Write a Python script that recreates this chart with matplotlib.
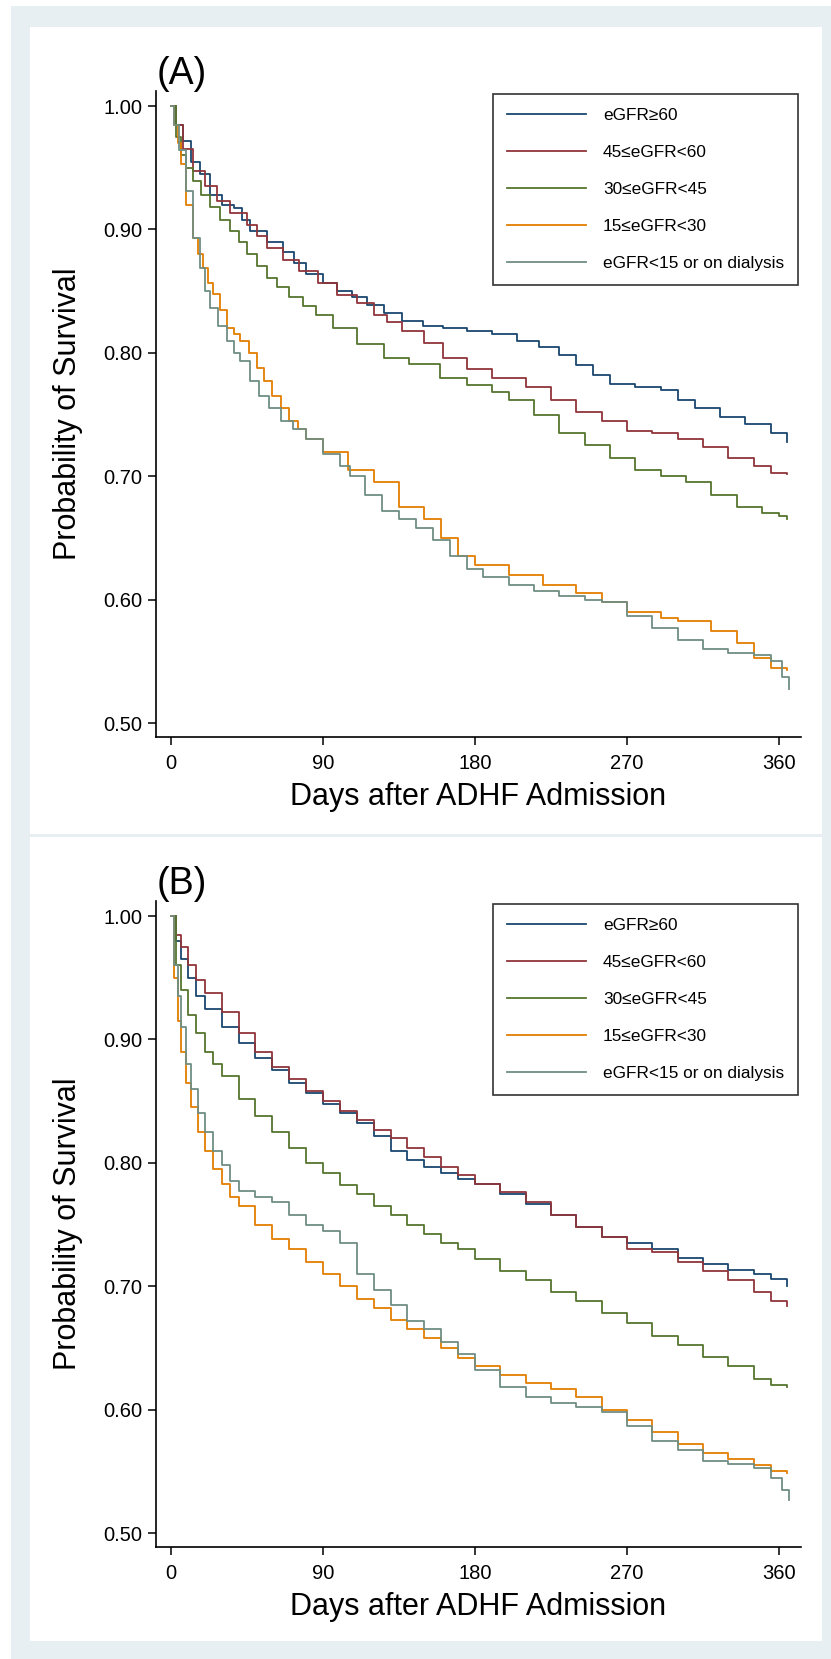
import matplotlib
matplotlib.use("Agg")
import matplotlib.pyplot as plt
from matplotlib.patches import Rectangle

plt.rcParams['font.family'] = ['Liberation Sans', 'DejaVu Sans']

# Group labels and Stata s2color-like colours
groups = ['eGFR\u226560', '45\u2264eGFR<60', '30\u2264eGFR<45', '15\u2264eGFR<30',
          'eGFR<15 or on dialysis']
colors = ['#1a476f', '#90353b', '#55752f', '#e37e00', '#6e8e84']

# Panel (A): Kaplan-Meier survival (day, survival)
a_days_1 = [0, 3, 7, 12, 17, 23, 30, 37, 42, 47, 57, 66, 73, 80, 90, 98, 107, 116, 126, 137,
            149, 161, 175, 190, 205, 218, 230, 240, 250, 260, 275, 290, 300, 310, 325, 340,
            355, 365]
a_surv_1 = [1.00, 0.985, 0.972, 0.955, 0.945, 0.928, 0.92, 0.917, 0.908, 0.899, 0.89, 0.882,
            0.873, 0.864, 0.857, 0.85, 0.845, 0.839, 0.832, 0.826, 0.822, 0.82, 0.818, 0.815,
            0.81, 0.805, 0.798, 0.79, 0.782, 0.775, 0.772, 0.77, 0.762, 0.755, 0.748, 0.742,
            0.735, 0.728]
a_days_2 = [0, 3, 7, 13, 20, 27, 35, 45, 51, 57, 66, 76, 87, 98, 110, 120, 128, 137, 150,
            161, 175, 190, 210, 225, 240, 255, 270, 285, 300, 315, 330, 345, 355, 365]
a_surv_2 = [1.00, 0.985, 0.965, 0.947, 0.935, 0.923, 0.913, 0.904, 0.895, 0.885, 0.875,
            0.866, 0.857, 0.847, 0.84, 0.831, 0.825, 0.818, 0.808, 0.796, 0.787, 0.78, 0.772,
            0.762, 0.752, 0.745, 0.737, 0.735, 0.73, 0.724, 0.715, 0.708, 0.703, 0.702]
a_days_3 = [0, 3, 6, 9, 13, 18, 23, 29, 35, 40, 45, 51, 57, 63, 70, 78, 86, 96, 110, 126,
            141, 159, 175, 190, 200, 215, 230, 245, 260, 275, 290, 305, 320, 335, 350, 360, 365]
a_surv_3 = [1.00, 0.975, 0.96, 0.95, 0.939, 0.928, 0.918, 0.908, 0.899, 0.89, 0.88, 0.87,
            0.861, 0.853, 0.845, 0.838, 0.831, 0.82, 0.807, 0.796, 0.791, 0.78, 0.774, 0.768,
            0.762, 0.75, 0.735, 0.725, 0.715, 0.705, 0.70, 0.695, 0.685, 0.675, 0.67, 0.668,
            0.665]
a_days_4 = [0, 2, 4, 6, 9, 13, 16, 19, 22, 25, 29, 33, 37, 41, 46, 51, 55, 60, 65, 70, 75,
            80, 90, 105, 120, 135, 150, 160, 170, 180, 200, 220, 240, 255, 270, 290, 300, 320,
            335, 345, 355, 365]
a_surv_4 = [1.00, 0.985, 0.97, 0.953, 0.92, 0.893, 0.88, 0.869, 0.857, 0.848, 0.835, 0.82,
            0.815, 0.81, 0.80, 0.788, 0.777, 0.765, 0.755, 0.745, 0.738, 0.73, 0.72, 0.705,
            0.695, 0.675, 0.665, 0.65, 0.635, 0.628, 0.62, 0.612, 0.605, 0.598, 0.59, 0.585,
            0.583, 0.575, 0.565, 0.553, 0.545, 0.543]
a_days_5 = [0, 2, 5, 9, 13, 17, 20, 23, 28, 33, 37, 41, 47, 52, 58, 65, 72, 80, 90, 100,
            106, 115, 125, 135, 145, 155, 165, 175, 185, 200, 215, 230, 245, 255, 270, 285,
            300, 315, 330, 345, 355, 362, 366]
a_surv_5 = [1.00, 0.985, 0.964, 0.931, 0.893, 0.869, 0.85, 0.836, 0.822, 0.81, 0.80, 0.793,
            0.777, 0.765, 0.755, 0.745, 0.738, 0.73, 0.718, 0.708, 0.70, 0.685, 0.672, 0.665,
            0.658, 0.648, 0.635, 0.625, 0.618, 0.612, 0.607, 0.603, 0.6, 0.598, 0.587, 0.577,
            0.567, 0.56, 0.557, 0.555, 0.55, 0.537, 0.528]

# Panel (B)
b_days_1 = [0, 3, 6, 10, 15, 20, 30, 40, 50, 60, 70, 80, 90, 100, 110, 120, 130, 140, 150,
            160, 170, 180, 195, 210, 225, 240, 255, 270, 285, 300, 315, 330, 345, 355, 365]
b_surv_1 = [1.00, 0.98, 0.965, 0.95, 0.935, 0.925, 0.91, 0.897, 0.885, 0.875, 0.865, 0.857,
            0.848, 0.84, 0.832, 0.822, 0.81, 0.802, 0.797, 0.792, 0.787, 0.783, 0.775, 0.767,
            0.758, 0.748, 0.74, 0.735, 0.73, 0.723, 0.718, 0.713, 0.71, 0.706, 0.70]
b_days_2 = [0, 3, 6, 10, 15, 20, 30, 40, 50, 60, 70, 80, 90, 100, 110, 120, 130, 140, 150,
            160, 170, 180, 195, 210, 225, 240, 255, 270, 285, 300, 315, 330, 345, 355, 365]
b_surv_2 = [1.00, 0.985, 0.975, 0.96, 0.948, 0.938, 0.922, 0.905, 0.89, 0.878, 0.868, 0.858,
            0.85, 0.842, 0.835, 0.827, 0.82, 0.812, 0.805, 0.797, 0.79, 0.783, 0.776, 0.768,
            0.758, 0.748, 0.74, 0.73, 0.728, 0.72, 0.712, 0.705, 0.695, 0.688, 0.684]
b_days_3 = [0, 3, 6, 10, 15, 20, 25, 30, 40, 50, 60, 70, 80, 90, 100, 110, 120, 130, 140, 150,
            160, 170, 180, 195, 210, 225, 240, 255, 270, 285, 300, 315, 330, 345, 355, 365]
b_surv_3 = [1.00, 0.96, 0.94, 0.92, 0.905, 0.89, 0.88, 0.87, 0.852, 0.838, 0.825, 0.812, 0.80,
            0.792, 0.782, 0.775, 0.765, 0.758, 0.75, 0.742, 0.735, 0.73, 0.722, 0.712, 0.705,
            0.695, 0.688, 0.678, 0.67, 0.66, 0.652, 0.643, 0.635, 0.625, 0.62, 0.618]
b_days_4 = [0, 2, 4, 6, 9, 12, 16, 20, 25, 30, 35, 40, 50, 60, 70, 80, 90, 100, 110, 120, 130,
            140, 150, 160, 170, 180, 195, 210, 225, 240, 255, 270, 285, 300, 315, 330, 345,
            355, 365]
b_surv_4 = [1.00, 0.95, 0.915, 0.89, 0.865, 0.845, 0.825, 0.81, 0.795, 0.783, 0.772, 0.765,
            0.75, 0.738, 0.73, 0.72, 0.71, 0.70, 0.69, 0.682, 0.673, 0.665, 0.658, 0.65,
            0.642, 0.635, 0.628, 0.622, 0.617, 0.61, 0.6, 0.592, 0.582, 0.572, 0.565, 0.56,
            0.555, 0.55, 0.549]
b_days_5 = [0, 2, 4, 6, 9, 12, 16, 20, 25, 30, 35, 40, 50, 60, 70, 80, 90, 100, 110, 120, 130,
            140, 150, 160, 170, 180, 195, 210, 225, 240, 255, 270, 285, 300, 315, 330, 345,
            355, 362, 366]
b_surv_5 = [1.00, 0.96, 0.935, 0.91, 0.88, 0.86, 0.84, 0.825, 0.81, 0.798, 0.785, 0.777, 0.772,
            0.768, 0.758, 0.75, 0.745, 0.735, 0.71, 0.697, 0.685, 0.672, 0.665, 0.655, 0.645,
            0.632, 0.618, 0.61, 0.605, 0.602, 0.598, 0.587, 0.575, 0.567, 0.558, 0.556,
            0.553, 0.545, 0.535, 0.527]

panels = [
    ('(A)', [(a_days_1, a_surv_1), (a_days_2, a_surv_2), (a_days_3, a_surv_3),
             (a_days_4, a_surv_4), (a_days_5, a_surv_5)]),
    ('(B)', [(b_days_1, b_surv_1), (b_days_2, b_surv_2), (b_days_3, b_surv_3),
             (b_days_4, b_surv_4), (b_days_5, b_surv_5)]),
]

x_ticks = [0, 90, 180, 270, 360]
y_ticks = [0.50, 0.60, 0.70, 0.80, 0.90, 1.00]

W, H = 831, 1659
fig = plt.figure(figsize=(W / 100, H / 100), dpi=100)
fig.patch.set_facecolor('white')


def frac(x0, y0, w, h):
    # pixel box (top-left origin) -> figure fraction box
    return [x0 / W, 1 - (y0 + h) / H, w / W, h / H]


# Stata-like outer region and white panels, drawn on a background axes
bg = fig.add_axes([0, 0, 1, 1], zorder=-10)
bg.set_axis_off()
bg.set_xlim(0, W)
bg.set_ylim(H, 0)
bg.add_patch(Rectangle((11, 6), W - 11, H - 6, facecolor='#e7eff2', edgecolor='none'))
for bx in [(30, 27, 792, 807), (30, 837, 792, 804)]:
    bg.add_patch(Rectangle(bx[:2], bx[2], bx[3], facecolor='white', edgecolor='none'))

for i, (tag, series) in enumerate(panels):
    off = 810 * i
    ax = fig.add_axes(frac(156, 91 + off, 645, 646))
    ax.patch.set_alpha(0)
    for (d, s), c, lab in zip(series, colors, groups):
        ax.plot(d, s, drawstyle='steps-post', color=c, lw=1.3, label=lab)

    ax.set_xlim(-8.9, 373)
    ax.set_ylim(0.4887, 1.0122)
    ax.set_xticks(x_ticks)
    ax.set_yticks(y_ticks)
    ax.set_yticklabels([f'{v:.2f}' for v in y_ticks])
    ax.tick_params(direction='out', length=6, width=1.1, labelsize=14.5, pad=4)
    ax.tick_params(axis='x', pad=6)
    for sp in ['top', 'right']:
        ax.spines[sp].set_visible(False)
    for sp in ['left', 'bottom']:
        ax.spines[sp].set_linewidth(1.2)

    ax.set_xlabel('Days after ADHF Admission', fontsize=22)
    ax.xaxis.set_label_coords(0.5, -(797 - 737) / 646)
    ax.xaxis.label.set_verticalalignment('center')
    ax.set_ylabel('Probability of Survival', fontsize=22)
    ax.yaxis.set_label_coords(-(156 - 68) / 645, 0.5)
    ax.yaxis.label.set_verticalalignment('center')

    fig.text(157 / W, 1 - (74 + off) / H, tag, fontsize=27, ha='left', va='center')

    leg = ax.legend(loc='upper right', bbox_to_anchor=(798 / W, 1 - (94 + off) / H),
                    bbox_transform=fig.transFigure, fontsize=12.4, frameon=True,
                    fancybox=False, edgecolor='black', handlelength=4.6,
                    handletextpad=1.0, labelspacing=1.28, borderpad=0.8,
                    borderaxespad=0)
    leg.get_frame().set_linewidth(1.2)

fig.savefig('out.png', dpi=100)
